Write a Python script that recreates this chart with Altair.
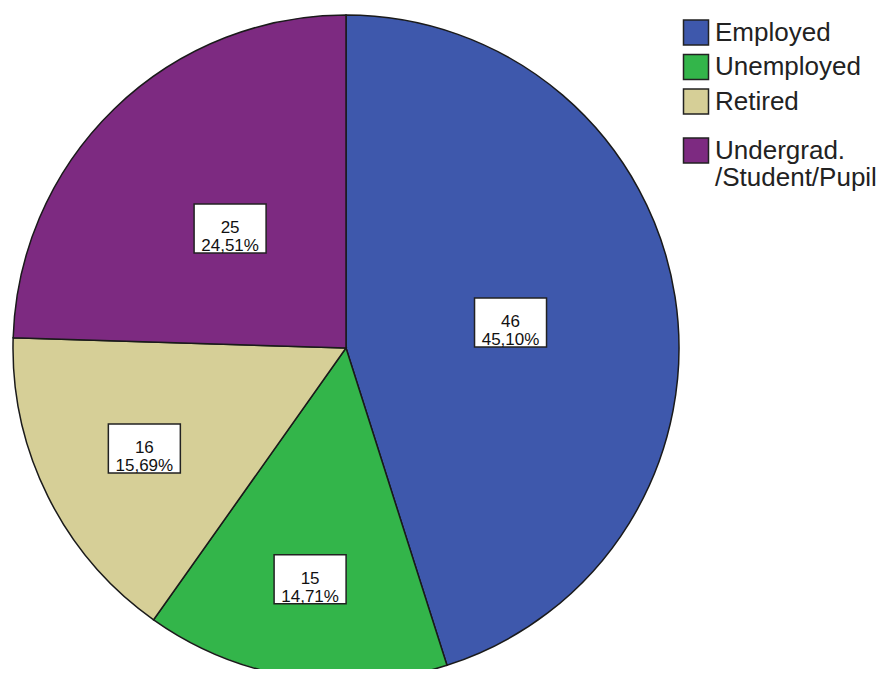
import altair as alt
import pandas as pd

# ---- data ----
categories = ["Employed", "Unemployed", "Retired", "Undergrad./Student/Pupil"]
legend_labels = ["Employed", "Unemployed", "Retired", "Undergrad.\n/Student/Pupil"]
counts = [46, 15, 16, 25]
colors = ["#3e58ac", "#33b54a", "#d6cf97", "#7d2a81"]

total = sum(counts)
pct_text = [f"{c / total * 100:.2f}".replace(".", ",") + "%" for c in counts]
df = pd.DataFrame({
    "category": categories,
    "count": counts,
    "order": list(range(len(categories))),
    "label": [f"{c}\n{p}" for c, p in zip(counts, pct_text)],
    "legend_label": legend_labels,
    "lines": [s.count("\n") + 1 for s in legend_labels],
})

# ---- layout ----
W, H = 870, 661
CX, CY, R = 338, 340, 333
LEG_SQ_X, LEG_TXT_X, LEG_TOP = 688, 707, 7.25
ROW_H, EXTRA_LINE_H = 34.5, 29

color_scale = alt.Scale(domain=categories, range=colors)
px_x = alt.Scale(domain=[0, W], range=[0, W])
px_y = alt.Scale(domain=[0, H], range=[0, H])

base = alt.Chart(df)

pie = base.mark_arc(radius=R, stroke="#1a1a1a", strokeWidth=1.5).encode(
    theta=alt.Theta("count:Q", stack=True),
    color=alt.Color("category:N", scale=color_scale, legend=None),
    order=alt.Order("order:Q"),
    x=alt.value(CX),
    y=alt.value(CY),
)

pos = base.transform_joinaggregate(
    total="sum(count)"
).transform_window(
    cum="sum(count)", sort=[alt.SortField("order")], frame=[None, 0]
).transform_calculate(
    frac="datum.count/datum.total",
    mid="PI*(2*datum.cum - datum.count)/datum.total",
).transform_calculate(
    rf="max(0.5, 1.1 - 2.7*datum.frac)",
).transform_calculate(
    lx=f"{CX} + sin(datum.mid)*datum.rf*{R}",
    ly=f"{CY} - cos(datum.mid)*datum.rf*{R}",
)

boxes = pos.mark_point(
    shape="M-1,-0.68L1,-0.68L1,0.68L-1,0.68Z",
    size=72 * 72,
    filled=True,
    fill="white",
    stroke="#222222",
    strokeWidth=1.5,
    opacity=1,
).encode(
    x=alt.X("lx:Q", scale=px_x, axis=None),
    y=alt.Y("ly:Q", scale=px_y, axis=None),
)

texts = pos.mark_text(
    font="Liberation Sans",
    fontSize=17,
    lineHeight=18,
    lineBreak="\n",
    align="center",
    baseline="middle",
    color="#111111",
).encode(
    x=alt.X("lx:Q", scale=px_x, axis=None),
    y=alt.Y("ly:Q", scale=px_y, axis=None),
    text="label:N",
)

# ---- legend (drawn from the same data) ----
leg = base.transform_calculate(
    h=f"{ROW_H} + (datum.lines - 1)*{EXTRA_LINE_H}"
).transform_window(
    cumh="sum(h)", sort=[alt.SortField("order")], frame=[None, 0]
).transform_calculate(
    yc=f"{LEG_TOP} + datum.cumh - datum.h/2",
    sx=f"{LEG_SQ_X}",
    tx=f"{LEG_TXT_X}",
)

leg_sq = leg.mark_square(
    size=625, filled=True, stroke="#222222", strokeWidth=1.5, opacity=1
).encode(
    x=alt.X("sx:Q", scale=px_x, axis=None),
    y=alt.Y("yc:Q", scale=px_y, axis=None),
    color=alt.Color("category:N", scale=color_scale, legend=None),
)

leg_txt = leg.mark_text(
    font="Liberation Sans",
    fontSize=26,
    lineHeight=27,
    lineBreak="\n",
    align="left",
    baseline="middle",
    color="#222222",
).encode(
    x=alt.X("tx:Q", scale=px_x, axis=None),
    y=alt.Y("yc:Q", scale=px_y, axis=None),
    text="legend_label:N",
)

chart = alt.layer(pie, boxes, texts, leg_sq, leg_txt).properties(
    width=W,
    height=H,
    autosize=alt.AutoSizeParams(type="none"),
    padding=0,
    background="white",
).configure_view(stroke=None)

chart.save("out.html", embed_options={"renderer": "svg", "actions": False})
